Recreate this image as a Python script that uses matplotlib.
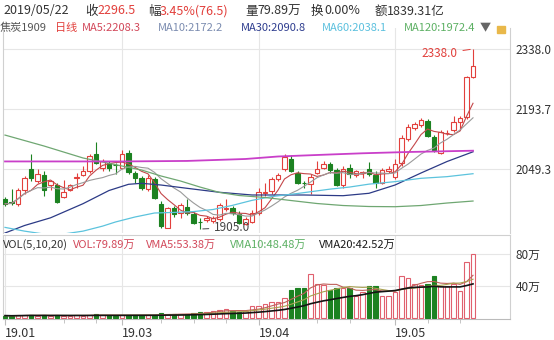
import matplotlib
matplotlib.use('Agg')
import matplotlib.pyplot as plt
import matplotlib.patches as mpatches
import numpy as np
import pandas as pd

# daily candles of 焦炭1909, 2019-01-29 .. 2019-05-22 (73 trading days)
OPEN = [1977.7, 1969, 1965.6, 1999.3, 2049.8, 2021, 2035.4, 2011.3, 2011.3, 1982.5,
        1999.3, 2028.2, 2035.4, 2045, 2085.9, 2052.2, 2064.2, 2059.4, 2052.2, 2088,
        2040.2, 2028.2, 2001.7, 2025.8, 1966, 1908, 1956, 1944, 1958.4, 1941.6,
        1922.4, 1927, 1924.8, 1929.6, 1954, 1956, 1941.6, 1917.5, 1922.4, 1944,
        1992, 1996.9, 2025.8, 2049.8, 2073.9, 2040.2, 2016.5, 2013.7, 2040.2, 2052.2,
        2061.8, 2047.4, 2011.3, 2052.2, 2035.4, 2040.2, 2049.8, 2035.4, 2016.1, 2045,
        2030.6, 2064.2, 2121.6, 2148, 2155.2, 2164.8, 2126.4, 2088, 2134.8, 2143.2,
        2162.4, 2174.5, 2270.7]
HIGH = [1982, 2001, 2004, 2033, 2086, 2050, 2045, 2023, 2016, 2023,
        2014, 2040, 2057, 2086, 2114, 2074, 2069, 2064, 2095, 2095,
        2045, 2033, 2035, 2030.6, 1972, 1958, 1961, 1968, 1977.7, 1946,
        1932, 1937, 1937, 1968, 1977.7, 1961, 1949, 1934, 1951, 2004,
        2016, 2030.6, 2040, 2086, 2083, 2045, 2021, 2038, 2069, 2069,
        2066, 2052, 2057, 2061.8, 2047, 2045, 2066, 2045, 2052, 2057,
        2074, 2131, 2157.6, 2162.4, 2172, 2170, 2131, 2143, 2143, 2177,
        2177, 2274, 2338.0]
LOW = [1961, 1963, 1961, 1990, 2021, 2016, 1985, 1999, 1968, 1980,
       1997, 2004, 2033, 2040, 2062, 2045, 2045, 2038, 2050, 2038,
       2016, 1999, 1997, 1978, 1908, 1907, 1934, 1932, 1939, 1917.5,
       1905.0, 1922, 1920, 1925, 1949, 1939, 1917, 1915, 1920, 1939,
       1985, 1990, 2021, 2045, 2042.6, 2013.7, 2004, 1990, 2037.8, 2049.8,
       2040, 2009, 2004, 2028, 2030.6, 2028, 2033, 2004, 2013.7, 2040,
       2025.8, 2057, 2117, 2143, 2150.4, 2126, 2090, 2085, 2131, 2138,
       2143, 2170, 2268]
CLOSE = [1965.6, 1968, 1999.3, 2028.2, 2028.2, 2037.8, 1999.3, 2021, 1970.4, 1994.5,
         2011.3, 2030.6, 2045, 2081.1, 2064.2, 2069, 2052.2, 2058.5, 2085.9, 2042.6,
         2028.2, 2004.1, 2028.2, 1980.1, 1912, 1956, 1941.6, 1963.2, 1944, 1920,
         1921, 1932, 1932, 1963.2, 1956, 1944, 1920, 1929.6, 1944, 1994.5,
         1993, 2025.8, 2035.4, 2078.7, 2045, 2016.1, 2016.1, 2030.6, 2049.8, 2061.8,
         2047.4, 2011.3, 2049.8, 2037.8, 2045, 2041, 2037.8, 2016.1, 2047.4, 2049.8,
         2061.8, 2124, 2150.4, 2157.6, 2167.2, 2128.8, 2095.1, 2138.4, 2136, 2162.4,
         2172, 2270.7, 2296.5]
VOLUME = [3.0, 2.6, 3.2, 3.5, 3.8, 3.0, 3.3, 2.8, 3.4, 3.1,
          2.9, 3.3, 3.0, 3.6, 4.6, 3.5, 3.2, 3.0, 3.6, 4.0,
          3.4, 3.2, 3.5, 3.8, 5.8, 5.2, 4.4, 4.6, 5.0, 6.8,
          7.2, 7.6, 9.0, 10.5, 10.8, 8.2, 8.0, 8.6, 15.0, 15.5,
          17.0, 19.5, 20.0, 24.5, 35.0, 37.0, 37.0, 54.6, 42.5, 41.5,
          34.5, 37.0, 37.5, 37.0, 28.0, 33.0, 40.0, 40.0, 28.0, 28.0,
          32.0, 52.0, 50.0, 42.0, 41.0, 42.0, 53.0, 40.0, 40.0, 43.0,
          34.0, 70.0, 79.89]

# long moving averages at some candles
MA30_IDX = [0, 3, 7, 12, 16, 19, 21, 24, 28, 33, 38, 42, 46, 52, 56, 60, 64, 68, 72]
MA30_VAL = [1895.5, 1913.5, 1932, 1966, 1997.7, 2012.6, 2015, 2010.9, 2003, 1993.4,
            1986.9, 1986.9, 1986.9, 1985.2, 1991, 2010.9, 2039.8, 2067.4, 2090.8]
MA60_IDX = [0, 3, 6, 9, 12, 15, 17, 20, 23, 26, 29, 32, 35, 38, 41, 45, 50, 53, 56, 60, 64, 68, 72]
MA60_VAL = [1909, 1900, 1893, 1893, 1900, 1912, 1922, 1934, 1943.6, 1945, 1947, 1952, 1962,
            1974, 1983, 1990.5, 2001, 2006, 2013, 2019, 2027, 2031, 2038.1]
MA120_IDX = [0, 6, 12, 18, 21, 24, 27, 30, 33, 36, 40, 44, 48, 52, 56, 60, 64, 68, 72]
MA120_VAL = [2131, 2104.7, 2075.9, 2056.6, 2047, 2032.6, 2020.5, 2006, 1993, 1985.7,
             1980.9, 1973.6, 1966.4, 1961.6, 1959.2, 1958.7, 1961.6, 1967.6, 1972.4]
MA250_IDX = [0, 18, 28, 37, 42, 50, 55, 62, 72]
MA250_VAL = [2067.6, 2067.6, 2068.8, 2073.5, 2079.5, 2084.3, 2087.2, 2090.3, 2093.4]

MONTH_POS = [0, 18, 39, 60]
MONTH_LABELS = ['19.01', '19.03', '19.04', '19.05']
WEEK_POS = [9, 14, 24, 29, 34, 48, 53, 65, 70]
PRICE_TICKS = [2049.3, 2193.7, 2338.0]
VOL_TICKS = [40, 80]
VOL_TICK_LABELS = ['40万', '80万']

RED = '#e2403c'
GREEN = '#1c8221'
VRED = '#e0606e'
GRID = '#e6e6e6'
EDGE = '#d0d0d0'

plt.rcParams['font.family'] = ['Noto Sans CJK SC', 'DejaVu Sans']

W, H = 554, 340
fig = plt.figure(figsize=(W / 100, H / 100), dpi=100)


def fx(x):
    return x / W


def fy(y):
    return 1 - y / H


ax = fig.add_axes([fx(3), fy(233), (510 - 3) / W, (233 - 28) / H])
vax = fig.add_axes([fx(3), fy(319), (510 - 3) / W, (319 - 235) / H])

idx = np.arange(len(CLOSE))
o, h, l, c = map(np.array, (OPEN, HIGH, LOW, CLOSE))
up = c >= o
col = np.where(up, RED, GREEN)

# price panel
ax.vlines(idx, l, h, colors=col, lw=0.8, zorder=2)
ax.bar(idx, np.abs(c - o), bottom=np.minimum(o, c), width=0.66,
       color=np.where(up, 'white', GREEN), edgecolor=col, lw=0.8, zorder=3)

close_s = pd.Series(CLOSE)
ax.plot(idx, close_s.rolling(5, min_periods=1).mean(), color='#c4474a', lw=0.8, zorder=4)
ax.plot(idx, close_s.rolling(10, min_periods=1).mean(), color='#9a9a9a', lw=0.8, zorder=4)
ax.plot(MA30_IDX, MA30_VAL, color='#2c3a86', lw=0.9, zorder=4)
ax.plot(MA60_IDX, MA60_VAL, color='#5cc3dd', lw=0.9, zorder=4)
ax.plot(MA120_IDX, MA120_VAL, color='#6fa772', lw=0.9, zorder=4)
ax.plot(MA250_IDX, MA250_VAL, color='#c93fc9', lw=1.3, zorder=4)

ax.annotate('2338.0', xy=(72, 2338.0), xytext=(69.6, 2326), ha='right', va='center',
            color=RED, fontsize=8.5, arrowprops=dict(arrowstyle='-', color=RED, lw=0.7))
ax.annotate('1905.0', xy=(30, 1905.0), xytext=(32.2, 1908.5), ha='left', va='center',
            color='#444444', fontsize=8.5, arrowprops=dict(arrowstyle='-', color='#444444', lw=0.7))

ax.set_xlim(-0.31, 77.69)
ax.set_ylim(1895.5, 2388.5)
ax.set_yticks(PRICE_TICKS)
ax.set_yticklabels(['%.1f' % t for t in PRICE_TICKS])
ax.yaxis.tick_right()
ax.tick_params(axis='y', length=0, pad=4, labelsize=8.5, labelcolor='#333333')
ax.set_xticks(MONTH_POS[1:])
ax.tick_params(axis='x', length=0, labelbottom=False)
ax.grid(True, color=GRID, lw=0.8)
ax.set_axisbelow(True)
for s in ['top', 'bottom']:
    ax.spines[s].set_visible(False)
for s in ['left', 'right']:
    ax.spines[s].set_color(EDGE)

# volume panel
vol = np.array(VOLUME)
vax.bar(idx, vol, width=0.66, color=np.where(up, 'white', GREEN),
        edgecolor=np.where(up, VRED, GREEN), lw=0.8, zorder=3)
vol_s = pd.Series(VOLUME)
vax.plot(idx, vol_s.rolling(5, min_periods=1).mean(), color='#c0605a', lw=0.8, zorder=4)
vax.plot(idx, vol_s.rolling(10, min_periods=1).mean(), color='#a8a050', lw=0.8, zorder=4)
vax.plot(idx, vol_s.rolling(20, min_periods=1).mean(), color='#151515', lw=1.2, zorder=4)

vax.set_xlim(-0.31, 77.69)
vax.set_ylim(-1.25, 103.75)
vax.set_yticks(VOL_TICKS)
vax.set_yticklabels(VOL_TICK_LABELS)
vax.yaxis.tick_right()
vax.tick_params(axis='y', length=0, pad=4, labelsize=8.5, labelcolor='#333333')
vax.set_xticks(MONTH_POS)
vax.set_xticklabels(MONTH_LABELS, ha='left')
vax.set_xticks(WEEK_POS, minor=True)
vax.tick_params(axis='x', which='both', length=4, color='#bbbbbb', labelsize=9,
                labelcolor='#333333', pad=2)
vax.tick_params(axis='x', which='minor', length=3)
vax.grid(True, color=GRID, lw=0.8)
vax.set_axisbelow(True)
for s in vax.spines.values():
    s.set_color(EDGE)
vax.spines['bottom'].set_color('#bbbbbb')

# header rows
ROW1 = [(3, '2019/05/22', '#333333'), (85, '收', '#333333'), (97, '2296.5', RED),
        (148, '幅', '#333333'), (160, '3.45%(76.5)', RED), (245, '量', '#333333'),
        (257, '79.89万', '#333333'), (311, '换', '#333333'), (324, '0.00%', '#333333'),
        (375, '额', '#333333'), (387, '1839.31亿', '#333333')]
ROW2 = [(0, '焦炭1909', '#555555'), (55, '日线', RED), (82, 'MA5:2208.3', '#d2485a'),
        (158, 'MA10:2172.2', '#7b8cb0'), (241, 'MA30:2090.8', '#2e3d8f'),
        (322, 'MA60:2038.1', '#5bc0de'), (404, 'MA120:1972.4', '#5cb063'),
        (480, '▼', '#666666')]
ROW3 = [(3, 'VOL(5,10,20)', '#333333'), (73, 'VOL:79.89万', '#d2485a'),
        (146, 'VMA5:53.38万', '#d2485a'), (230, 'VMA10:48.48万', '#5cb063'),
        (319, 'VMA20:42.52万', '#1a1a1a')]
for x, t, cl in ROW1:
    fig.text(fx(x), fy(11), t, color=cl, fontsize=9, ha='left', va='center')
for x, t, cl in ROW2:
    fig.text(fx(x), fy(28), t, color=cl, fontsize=8, ha='left', va='center')
for x, t, cl in ROW3:
    fig.text(fx(x), fy(245), t, color=cl, fontsize=8, ha='left', va='center')
fig.patches.append(mpatches.Rectangle((fx(497), fy(33)), 8 / W, 7 / H,
                                      transform=fig.transFigure, color='#e9b84a'))

fig.savefig('out.png', dpi=100)
